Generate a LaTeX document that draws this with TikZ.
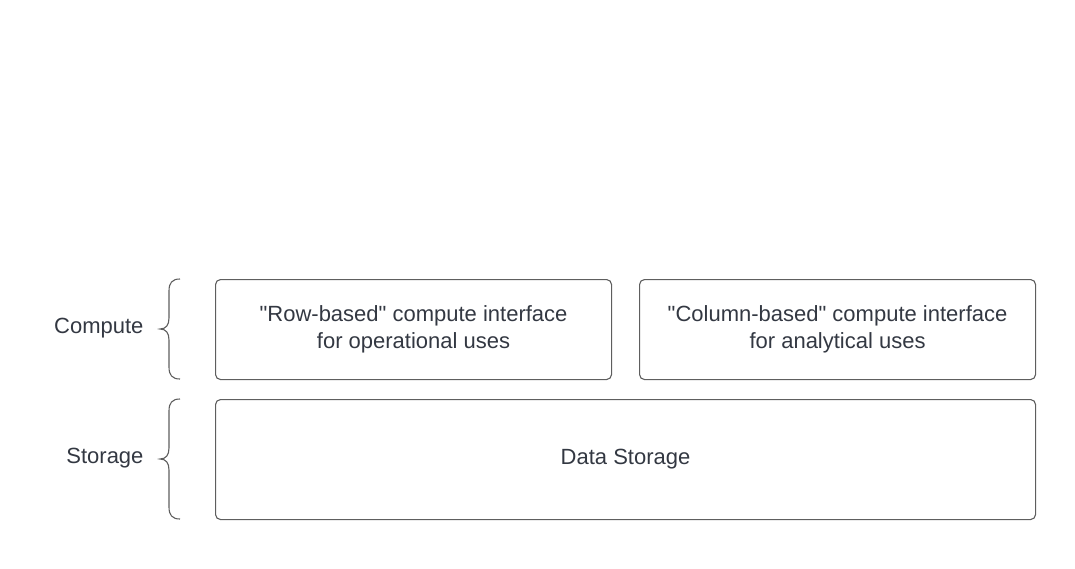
\documentclass[tikz,border=0pt]{standalone}
\usepackage{fontspec}
\setmainfont{Liberation Sans}[Ligatures=TeXOff]
\begin{document}
\begin{tikzpicture}[x=1pt,y=-1pt,
  box/.style={draw=boxgray, line width=1.1pt, rounded corners=5pt, inner sep=0pt},
  lbl/.style={text=txt, font=\fontsize{22}{27}\selectfont, align=center},
  bracepath/.style={draw=boxgray, line width=1.1pt}]
\definecolor{boxgray}{HTML}{5E5E5E}
\definecolor{txt}{HTML}{333842}
\useasboundingbox (0,0) rectangle (1075,569);
\node[box, minimum width=396pt, minimum height=100pt, anchor=north west] (row) at (215,279) {};
\node[box, minimum width=396pt, minimum height=100pt, anchor=north west] (col) at (639,279) {};
\node[box, minimum width=820pt, minimum height=120pt, anchor=north west] (ds) at (215,399) {};
\node[lbl] at (row.center) {"Row-based" compute interface\\for operational uses};
\node[lbl] at (col.center) {"Column-based" compute interface\\for analytical uses};
\node[lbl] at (ds.center) {Data Storage};
\node[lbl, anchor=east] (cl) at (147,328) {Compute};
\node[lbl, anchor=east] (sl) at (147,458) {Storage};
\draw[bracepath] (180,279) .. controls (172,279) and (169,283) .. (169,291) -- (169,318)
  .. controls (169,325) and (166,329) .. (160,329)
  .. controls (166,329) and (169,333) .. (169,340) -- (169,367)
  .. controls (169,375) and (172,379) .. (180,379);
\draw[bracepath] (180,399) .. controls (172,399) and (169,403) .. (169,411) -- (169,448)
  .. controls (169,455) and (166,459) .. (160,459)
  .. controls (166,459) and (169,463) .. (169,470) -- (169,507)
  .. controls (169,515) and (172,519) .. (180,519);
\end{tikzpicture}
\end{document}
